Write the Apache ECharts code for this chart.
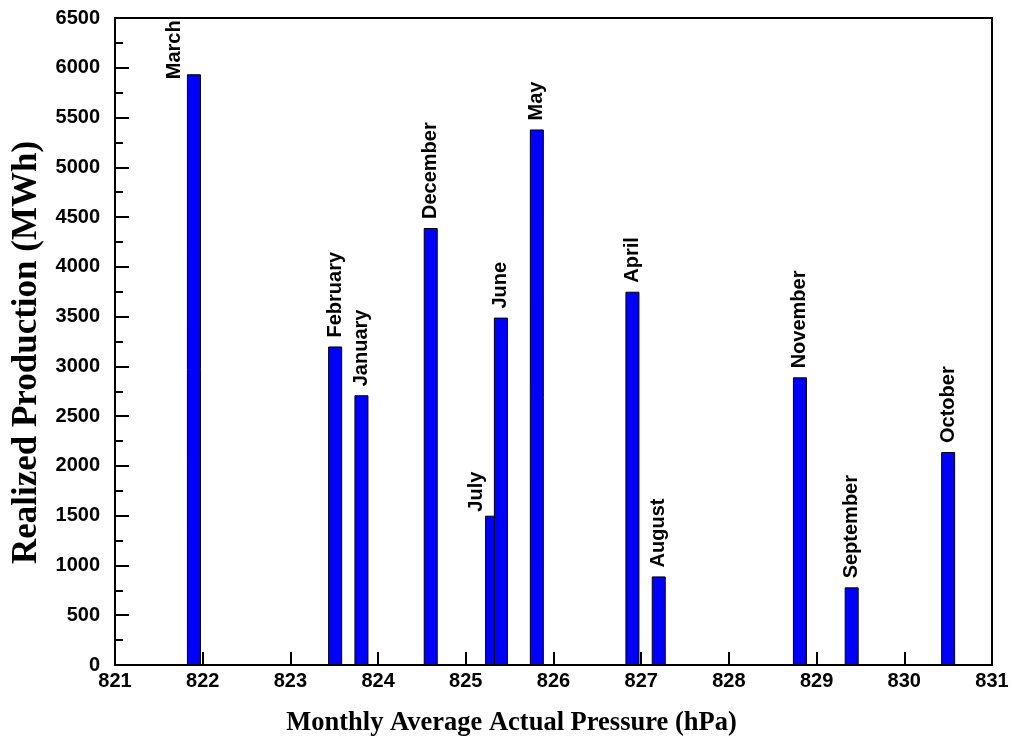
<!DOCTYPE html>
<html>
<head>
<meta charset="utf-8">
<script src="https://cdn.jsdelivr.net/npm/echarts@6/dist/echarts.min.js"></script>
<style>
  html, body { margin: 0; padding: 0; background: #fff; }
  #chart { width: 1012px; height: 751px; }
</style>
</head>
<body>
<div id="chart"></div>
<script>
// Monthly production against monthly mean actual pressure
const months = ['March', 'February', 'January', 'December', 'July', 'June',
                'May', 'April', 'August', 'November', 'September', 'October'];
const pressure = [821.9, 823.51, 823.81, 824.6, 825.3, 825.4,
                  825.81, 826.9, 827.2, 828.81, 829.4, 830.5];          // hPa
const production = [5935, 3200, 2710, 4390, 1500, 3490,
                    5380, 3750, 890, 2890, 780, 2140];                  // MWh

const xTicks = { min: 821, max: 831, step: 1 };
const yTicks = { min: 0, max: 6500, step: 500 };

// labels that sit beside their bar instead of above it
// (offset is in the rotated label frame: [along text, across text])
const labelShift = { March: [-14, -19], July: [-5, -16] };

const sansBold = { fontFamily: 'Liberation Sans, Arial, sans-serif', fontWeight: 'bold', color: '#000' };
const serifBold = { fontFamily: 'Liberation Serif, Times New Roman, serif', fontWeight: 'bold', color: '#000' };

const barData = months.map((m, i) => {
  const item = { name: m, value: [pressure[i], production[i]] };
  if (labelShift[m]) item.label = { offset: labelShift[m] };
  return item;
});

const plain = v => String(v);

const chart = echarts.init(document.getElementById('chart'), null, { renderer: 'canvas' });
chart.setOption({
  backgroundColor: '#fff',
  animation: false,
  grid: {
    left: 115, right: 20, top: 18, bottom: 86,
    show: true, borderColor: '#000', borderWidth: 2, backgroundColor: 'transparent'
  },
  xAxis: {
    type: 'value',
    min: xTicks.min, max: xTicks.max, interval: xTicks.step,
    name: 'Monthly Average Actual Pressure (hPa)',
    nameLocation: 'middle', nameGap: 45,
    nameTextStyle: Object.assign({ fontSize: 26.5, padding: [0, 84, 0, 0] }, serifBold),
    axisLine: { show: true, onZero: false, lineStyle: { color: '#000', width: 2 } },
    axisTick: { show: true, inside: true, length: 13, lineStyle: { color: '#000', width: 2 } },
    axisLabel: Object.assign({ fontSize: 20, margin: 6, formatter: plain }, sansBold),
    splitLine: { show: false }
  },
  yAxis: {
    type: 'value',
    min: yTicks.min, max: yTicks.max, interval: yTicks.step,
    name: 'Realized Production (MWh)',
    nameLocation: 'middle', nameGap: 60, nameRotate: 90,
    nameTextStyle: Object.assign({ fontSize: 35, padding: [0, 22, 0, 0] }, serifBold),
    axisLine: { show: true, lineStyle: { color: '#000', width: 2 } },
    axisTick: { show: true, inside: true, length: 14, lineStyle: { color: '#000', width: 2 } },
    minorTick: { show: true, splitNumber: 2, length: 8, lineStyle: { color: '#000', width: 2 } },
    axisLabel: Object.assign({ fontSize: 20, margin: 15, formatter: plain }, sansBold),
    splitLine: { show: false }
  },
  series: [{
    type: 'bar',
    barWidth: 14,
    data: barData,
    itemStyle: { color: '#0000ff', borderColor: '#000', borderWidth: 1 },
    label: Object.assign({
      show: true, position: 'top', rotate: 90, distance: 9,
      align: 'left', verticalAlign: 'middle', fontSize: 20,
      formatter: p => p.name
    }, sansBold)
  }]
});
</script>
</body>
</html>
